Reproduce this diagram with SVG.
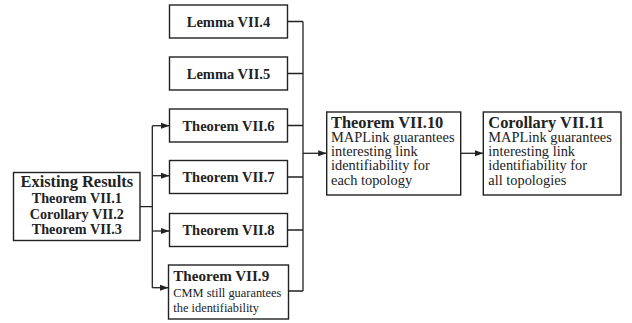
<svg xmlns="http://www.w3.org/2000/svg" width="632" height="323" viewBox="0 0 632 323">
<defs>
<style>
.box{fill:#fff;stroke:#222;stroke-width:1.4}
.ln{fill:none;stroke:#222;stroke-width:1.3}
.t{font-family:"Liberation Serif","Times New Roman",serif;fill:#222}
.b{font-weight:bold}
.c{text-anchor:middle}
</style>
<marker id="ah" markerUnits="userSpaceOnUse" markerWidth="9" markerHeight="7" refX="8.5" refY="3.5" orient="auto">
<path d="M0,0.5 L8.5,3.5 L0,6.5 z" fill="#222"/>
</marker>
</defs>
<g id="connectors">
<path class="ln" d="M287.5,21.5 H303 M287.5,73.5 H303 M287.5,125.5 H303 M287.5,177 H303 M287.5,230 H303 M288.5,291 H303 M303,21.5 V291"/>
<path class="ln" d="M303,153.3 H326.7" marker-end="url(#ah)"/>
<path class="ln" d="M460.7,153.3 H483.3" marker-end="url(#ah)"/>
<path class="ln" d="M140,206.7 H152.3 M152.3,125.7 V287.7"/>
<path class="ln" d="M152.3,125.7 H169.5" marker-end="url(#ah)"/>
<path class="ln" d="M152.3,175.7 H169.5" marker-end="url(#ah)"/>
<path class="ln" d="M152.3,231 H169.5" marker-end="url(#ah)"/>
<path class="ln" d="M152.3,287.7 H168.5" marker-end="url(#ah)"/>
</g>
<g id="existing">
<rect class="box" x="13.5" y="172.5" width="126.5" height="68"/>
<text class="t b c" x="76.8" y="186.7" font-size="16.4">Existing Results</text>
<text class="t b c" x="76.8" y="202.7" font-size="14.2">Theorem VII.1</text>
<text class="t b c" x="76.8" y="218.5" font-size="14.2">Corollary VII.2</text>
<text class="t b c" x="76.8" y="234" font-size="14.2">Theorem VII.3</text>
</g>
<g id="lemma4">
<rect class="box" x="169.5" y="5" width="118" height="33"/>
<text class="t b c" x="228.5" y="26.5" font-size="14.5">Lemma VII.4</text>
</g>
<g id="lemma5">
<rect class="box" x="169.5" y="57" width="118" height="33"/>
<text class="t b c" x="228.5" y="78.5" font-size="14.5">Lemma VII.5</text>
</g>
<g id="thm6">
<rect class="box" x="169.5" y="109" width="118" height="33"/>
<text class="t b c" x="228.5" y="130.5" font-size="14.5">Theorem VII.6</text>
</g>
<g id="thm7">
<rect class="box" x="169.5" y="160.5" width="118" height="33"/>
<text class="t b c" x="228.5" y="182" font-size="14.5">Theorem VII.7</text>
</g>
<g id="thm8">
<rect class="box" x="169.5" y="213.5" width="118" height="33"/>
<text class="t b c" x="228.5" y="235" font-size="14.5">Theorem VII.8</text>
</g>
<g id="thm9">
<rect class="box" x="168.5" y="265" width="120" height="54"/>
<text class="t b" x="173.3" y="280.7" font-size="15.1">Theorem VII.9</text>
<text class="t" x="173.3" y="296.7" font-size="12.4">CMM still guarantees</text>
<text class="t" x="173.3" y="311.7" font-size="12.4">the identifiability</text>
</g>
<g id="thm10">
<rect class="box" x="326.7" y="112" width="134" height="83"/>
<text class="t b" x="331" y="128" font-size="16.4">Theorem VII.10</text>
<text class="t" x="331" y="142" font-size="14.4">MAPLink guarantees</text>
<text class="t" x="331" y="156" font-size="14.4">interesting link</text>
<text class="t" x="331" y="170.3" font-size="14.4">identifiability for</text>
<text class="t" x="331" y="185" font-size="14.4">each topology</text>
</g>
<g id="cor11">
<rect class="box" x="483.3" y="112" width="137.7" height="83"/>
<text class="t b" x="488.3" y="128" font-size="16.4">Corollary VII.11</text>
<text class="t" x="488.3" y="142" font-size="14.4">MAPLink guarantees</text>
<text class="t" x="488.3" y="156" font-size="14.4">interesting link</text>
<text class="t" x="488.3" y="170.3" font-size="14.4">identifiability for</text>
<text class="t" x="488.3" y="185" font-size="14.4">all topologies</text>
</g>
</svg>
